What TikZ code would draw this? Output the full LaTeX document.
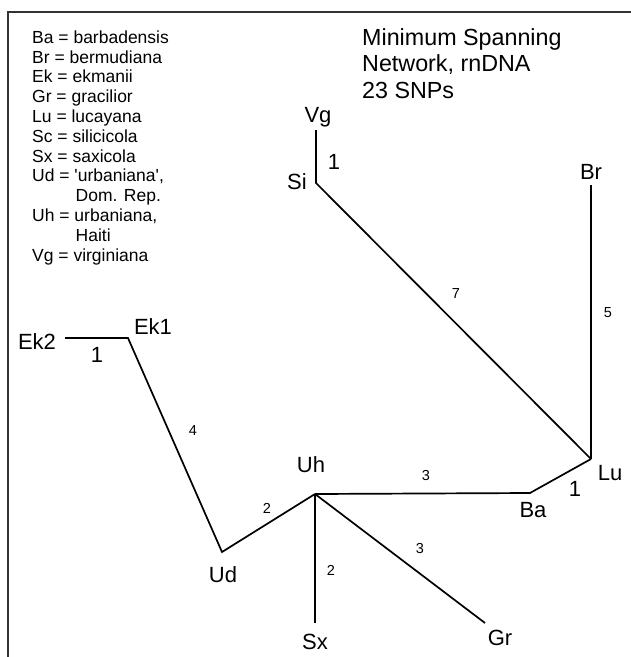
\documentclass[tikz,border=0pt]{standalone}
\usepackage{fontspec}
\setmainfont{Liberation Sans}[Ligatures=TeXOff]
\begin{document}
\begin{tikzpicture}[x=1pt,y=-1pt,
  taxon/.style={font=\fontsize{22}{22}\selectfont, inner sep=0pt, text height=15.8pt, text depth=0pt},
  bigw/.style={font=\fontsize{22}{22}\selectfont, inner sep=0pt, text height=15.8pt, text depth=0pt},
  smallw/.style={font=\fontsize{14.5}{14.5}\selectfont, inner sep=0pt, text height=10.4pt, text depth=0pt},
  legend/.style={font=\fontsize{17.5}{17.5}\selectfont, inner sep=0pt, text height=12.5pt, text depth=0pt, anchor=west},
  titletext/.style={font=\fontsize{23.3}{23.3}\selectfont, inner sep=0pt, text height=16.7pt, text depth=0pt, anchor=west},
  branch/.style={line width=1.7pt, black, line join=miter},
  frame/.style={line width=2.6pt, black!80}]
\useasboundingbox (0,0) rectangle (631,657);
% frame
\draw[frame] (8,657) -- (8,12) -- (631,12);
% legend
\node[legend] (l1) at (32,37) {Ba = barbadensis};
\node[legend] (l2) at (32,56.8) {Br = bermudiana};
\node[legend] (l3) at (32,76.6) {Ek = ekmanii};
\node[legend] (l4) at (32,96.4) {Gr = gracilior};
\node[legend] (l5) at (32,116.2) {Lu = lucayana};
\node[legend] (l6) at (32,136) {Sc = silicicola};
\node[legend] (l7) at (32,155.8) {Sx = saxicola};
\node[legend] (l8) at (32,175.6) {Ud = 'urbaniana',};
\node[legend] (l9) at (75.5,195.4) {Dom. Rep.};
\node[legend] (l10) at (32,215.2) {Uh = urbaniana,};
\node[legend] (l11) at (75.5,235) {Haiti};
\node[legend] (l12) at (32,254.8) {Vg = virginiana};
% title
\node[titletext] (t1) at (362,37) {Minimum Spanning};
\node[titletext] (t2) at (362,63.5) {Network, rnDNA};
\node[titletext] (t3) at (362,90) {23 SNPs};
% network points
\coordinate (vgp) at (316,130);
\coordinate (sip) at (316,183);
\coordinate (brp) at (591,185);
\coordinate (lup) at (591,459);
\coordinate (bap) at (530,493);
\coordinate (uhp) at (315,494);
\coordinate (udp) at (222,552);
\coordinate (ek1p) at (128,338);
\coordinate (ek2p) at (65,338);
\coordinate (sxp) at (315,623);
\coordinate (grp) at (485,623);
% taxon labels
\node[taxon] (vg) at (318,115) {Vg};
\node[taxon] (si) at (297,182) {Si};
\node[taxon] (br) at (591,172) {Br};
\node[taxon] (lu) at (610,473) {Lu};
\node[taxon] (ba) at (533,510) {Ba};
\node[taxon] (uh) at (311,465) {Uh};
\node[taxon] (ud) at (223,575) {Ud};
\node[taxon] (ek1) at (153,327) {Ek1};
\node[taxon] (ek2) at (37,342) {Ek2};
\node[taxon] (sx) at (315,642) {Sx};
\node[taxon] (gr) at (500,638) {Gr};
% branches
\draw[branch] (vgp) -- (sip) -- (lup);
\draw[branch] (brp) -- (lup);
\draw[branch] (lup) -- (bap) -- (uhp);
\draw[branch] (ek2p) -- (ek1p) -- (udp) -- (uhp);
\draw[branch] (uhp) -- (sxp);
\draw[branch] (uhp) -- (grp);
% branch lengths
\node[bigw] (w1) at (334,162) {1};
\node[bigw] (w2) at (97,355) {1};
\node[bigw] (w3) at (575,489) {1};
\node[smallw] (w4) at (456,293) {7};
\node[smallw] (w5) at (608,312) {5};
\node[smallw] (w6) at (193,430) {4};
\node[smallw] (w7) at (267,508) {2};
\node[smallw] (w8) at (426,475) {3};
\node[smallw] (w9) at (331,570) {2};
\node[smallw] (w10) at (420,548) {3};
\end{tikzpicture}
\end{document}
